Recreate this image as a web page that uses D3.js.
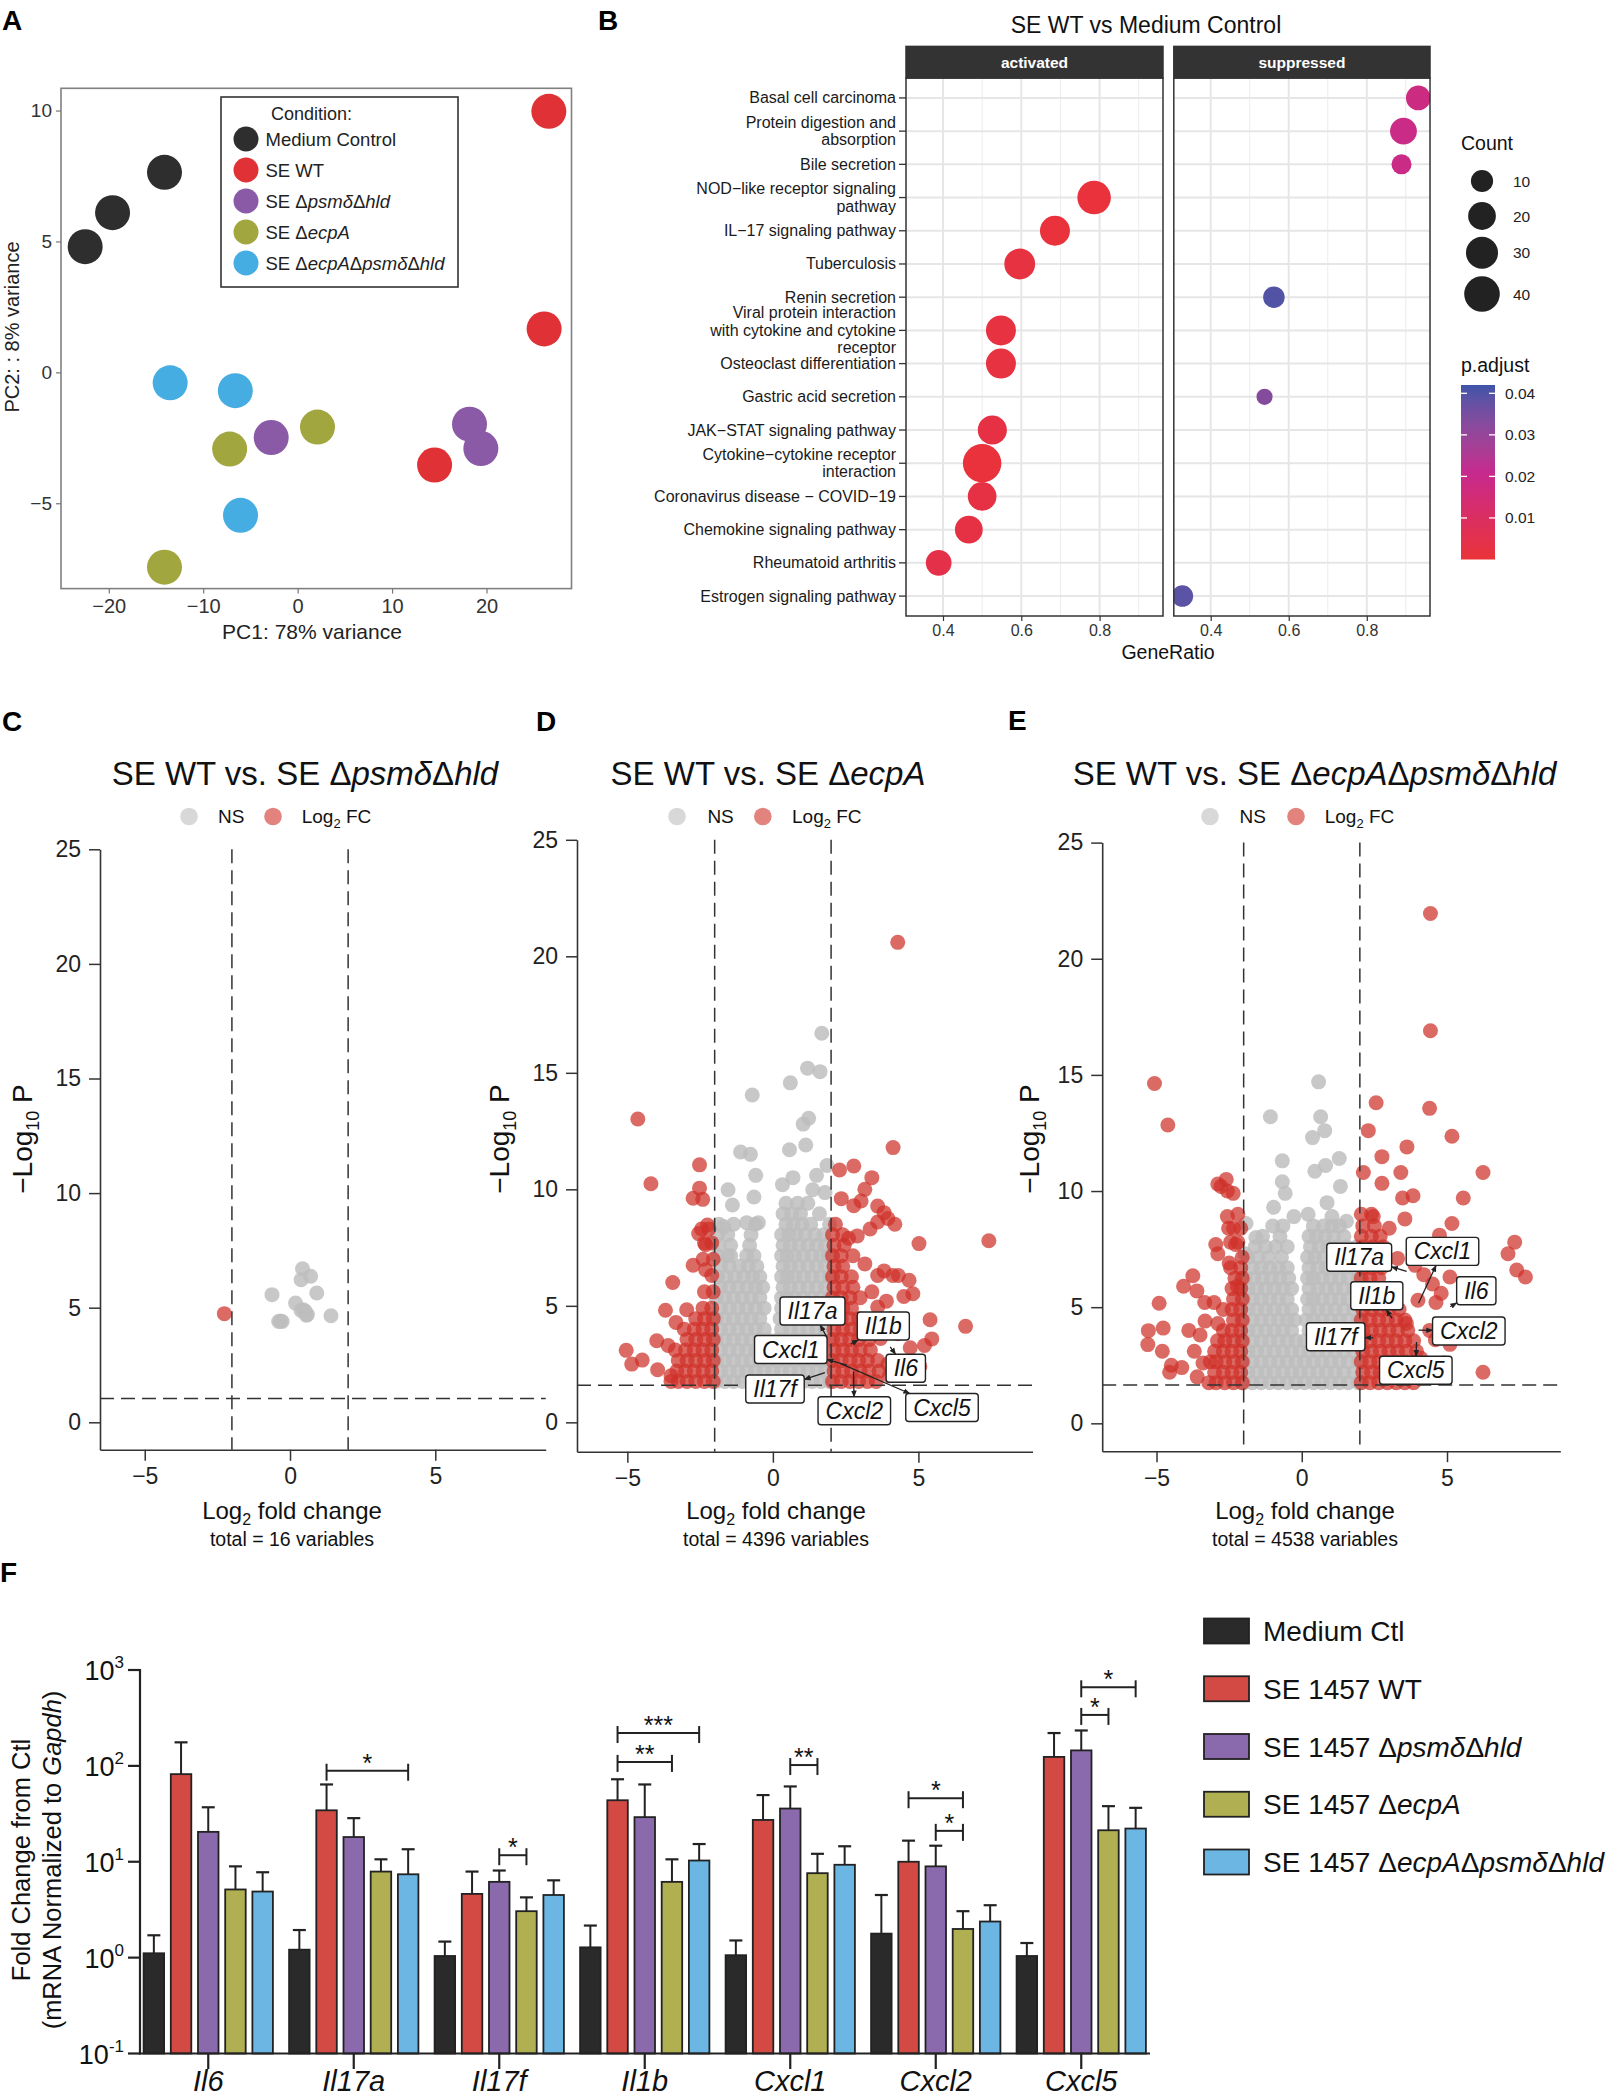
<!DOCTYPE html>
<html><head><meta charset="utf-8"><title>Figure</title>
<script src="https://cdn.jsdelivr.net/npm/d3@7/dist/d3.min.js"></script>
<style>html,body{margin:0;padding:0;background:#fff}svg{display:block}</style>
</head><body>
<script>
// ======================= DATA =======================
// ---- Panel A : PCA ----
const pcaConditions = ["Medium Control","SE WT","SE ΔpsmδΔhld","SE ΔecpA","SE ΔecpAΔpsmδΔhld"];
const pcaPC1 = [-14.1,-19.6,-22.5, 26.6,26.1,14.5, -2.8,18.2,19.4, -7.2,2.1,-14.1, -13.5,-6.6,-6.05];
const pcaPC2 = [7.64,6.1,4.8, 9.97,1.66,-3.54, -2.49,-1.98,-2.91, -2.93,-2.09,-7.44, -0.40,-0.70,-5.46];
const pcaGroup = [0,0,0, 1,1,1, 2,2,2, 3,3,3, 4,4,4];
const pcaXTicks = [-20,-10,0,10,20];
const pcaYTicks = [-5,0,5,10];

// ---- Panel B : KEGG dot plot ----
const keggTerms = ["Basal cell carcinoma","Protein digestion and\nabsorption","Bile secretion",
  "NOD−like receptor signaling\npathway","IL−17 signaling pathway","Tuberculosis","Renin secretion",
  "Viral protein interaction\nwith cytokine and cytokine\nreceptor","Osteoclast differentiation",
  "Gastric acid secretion","JAK−STAT signaling pathway","Cytokine−cytokine receptor\ninteraction",
  "Coronavirus disease − COVID−19","Chemokine signaling pathway","Rheumatoid arthritis","Estrogen signaling pathway"];
const keggActIdx   = [3,4,5,7,8,10,11,12,13,14];
const keggActRatio = [0.786,0.686,0.596,0.548,0.548,0.526,0.500,0.500,0.466,0.389];
const keggActCount = [34,25,27,25,25,23,49,22,20,16];
const keggActPadj  = [0.001,0.001,0.002,0.002,0.002,0.003,0.001,0.003,0.003,0.004];
const keggSupIdx   = [0,1,2,6,9,15];
const keggSupRatio = [0.932,0.894,0.889,0.562,0.538,0.3275];
const keggSupCount = [14,18,7,9,3,9];
const keggSupPadj  = [0.018,0.019,0.019,0.040,0.033,0.039];
const keggRatioTicks = [0.4,0.6,0.8];
const keggMinorTicks = [0.5,0.7,0.9];
const countLegend = [10,20,30,40];
const padjLegend = [0.01,0.02,0.03,0.04];

// ---- Panels C–E : volcano plots ([log2FC, -log10 P]) ----
const volcYTicks = [0,5,10,15,20,25];
const volcXTicks = [-5,0,5];
const cNS = [[0.43,6.70],[0.38,6.22],[0.71,6.37],[-0.62,5.57],[0.92,5.64],[0.19,5.2],[0.46,4.91],[0.38,4.88],
  [0.56,4.67],[1.41,4.65],[-0.39,4.40],[-0.27,4.40],[0.52,4.85],[-0.33,4.42],[0.60,4.70]];
const cFC = [[-2.26,4.74]];
const cPCut = 1.04;

const dNSOut = [[1.68,16.7],[1.19,15.2],[1.62,15.05],[0.6,14.57],[-0.71,14.05],[1.23,13.05],[1.04,12.8],
  [-1.11,11.6],[-0.77,11.5],[1.13,11.9],[0.57,11.7],[-0.59,10.6],[1.86,11.02],[1.5,10.6],[-1.54,9.98],
  [-1.39,9.33],[-0.65,9.67],[0.33,10.2],[0.69,10.5],[1.37,9.98],[1.79,9.86],[-0.9,8.57],[-0.5,8.57],[-1.69,8.4]];
const dNSRows = [
  [1.75,[-1.95,-1.65,-1.35,-1.05,-0.75,-0.45,-0.15,0.15,0.45,0.75,1.05,1.35,1.65,1.95]],
  [2.2,[-1.8,-1.5,-1.2,-0.9,-0.6,-0.3,0,0.3,0.6,0.9,1.2,1.5,1.8]],
  [2.65,[-1.95,-1.65,-1.35,-1.05,-0.75,-0.45,-0.15,0.15,0.45,0.75,1.05,1.35,1.65,1.95]],
  [3.1,[-1.8,-1.5,-1.2,-0.9,-0.6,-0.3,0.02,0.3,0.6,0.9,1.2,1.5,1.8]],
  [3.55,[-1.95,-1.65,-1.35,-1.05,-0.75,-0.45,-0.18,0.18,0.45,0.75,1.05,1.35,1.65,1.95]],
  [4.0,[-1.8,-1.5,-1.2,-0.9,-0.6,-0.3,0.3,0.6,0.9,1.2,1.5,1.8]],
  [4.45,[-1.95,-1.65,-1.35,-1.05,-0.75,-0.45,0.25,0.45,0.75,1.05,1.35,1.65,1.95]],
  [4.9,[-1.8,-1.5,-1.2,-0.9,-0.6,-0.3,0.3,0.6,0.9,1.2,1.5,1.8]],
  [5.35,[-1.95,-1.65,-1.35,-1.05,-0.75,-0.45,0.3,0.5,0.75,1.05,1.35,1.65,1.95]],
  [5.8,[-1.8,-1.5,-1.2,-0.9,-0.6,-0.35,0.35,0.6,0.9,1.2,1.5,1.8]],
  [6.25,[-1.9,-1.6,-1.3,-1.0,-0.7,-0.45,0.3,0.5,0.75,1.05,1.35,1.65,1.95]],
  [6.7,[-1.8,-1.5,-1.15,-0.85,-0.55,0.35,0.6,0.9,1.2,1.5,1.8]],
  [7.15,[-1.9,-1.55,-1.45,-0.9,-0.65,0.3,0.5,0.75,1.05,1.35,1.65,1.9]],
  [7.6,[-1.85,-1.45,-0.8,0.35,0.6,0.9,1.2,1.5,1.8]],
  [8.05,[-1.9,-1.55,-0.75,0.3,0.55,0.8,1.1,1.45,1.75]],
  [8.5,[-1.85,-1.35,-0.6,0.45,0.7,1.0,1.3,1.95]],
  [8.95,[0.35,0.65,0.95,1.6]],
  [9.4,[0.45,0.85,1.2]]];
const dFCOut = [[-4.64,13.02],[-4.19,10.24],[-2.52,11.05],[-2.52,10.05],[-2.74,9.62],[-2.41,9.57],[-2.55,8.1],
  [-2.25,8.47],[-2.31,7.62],[-2.74,6.74],[-3.44,6.0],[-2.31,6.55],[-3.69,4.81],[-2.96,4.83],[-3.33,4.29],
  [-3.99,3.5],[-5.04,3.09],[-4.85,2.5],[-4.49,2.67],[-3.96,2.26],[-3.6,3.3],[-3.5,2.0],
  [4.29,20.6],[4.13,11.79],[7.42,7.79],[5.02,7.67],[6.62,4.12],[5.4,4.4],[5.46,3.58],[5.21,3.3],[4.81,5.52],
  [2.29,10.83],[2.78,11.0],[3.4,10.5],[3.16,10.0],[2.35,9.6],[2.78,9.3],[3.03,9.5],[3.6,9.28],[3.82,9.0],
  [4.19,8.5],[3.6,8.6],[3.34,8.3],[3.95,8.75],[2.9,8.0],[2.6,7.9],[3.82,6.5],[4.31,6.3],[4.68,6.1],[3.6,6.3],
  [3.16,6.8],[4.12,6.3],[3.4,5.6],[4.03,4.45],[4.5,5.4],[3.6,4.95],[4.3,3.8],[4.72,3.2],[5.05,2.4],[3.95,2.5],
  [3.7,3.6],[4.0,2.0],[3.4,4.2],[3.9,5.2]];
const dFCRows = [
  [1.75,[2.05,2.35,2.65,2.95,3.25,3.55,-2.05,-2.35,-2.65,-2.95,-3.25,-3.5]],
  [2.2,[2.1,2.4,2.7,3.0,3.3,3.65,-2.1,-2.4,-2.7,-3.0,-3.3]],
  [2.65,[2.05,2.35,2.65,2.95,3.25,3.6,-2.05,-2.35,-2.65,-2.95,-3.25]],
  [3.1,[2.1,2.4,2.7,3.0,3.35,-2.1,-2.4,-2.7,-3.0,-3.35]],
  [3.55,[2.05,2.35,2.65,2.95,3.3,-2.05,-2.35,-2.65,-2.95]],
  [4.0,[2.1,2.4,2.7,3.0,-2.1,-2.4,-2.7,-3.05]],
  [4.45,[2.05,2.35,2.65,2.95,-2.05,-2.35,-2.65]],
  [4.9,[2.1,2.4,2.7,-2.1,-2.4]],
  [5.35,[2.05,2.35,2.65,3.0]],
  [5.6,[-2.05,-2.35]],
  [5.8,[2.1,2.4,2.75]],
  [6.25,[2.05,2.35,2.7]],
  [6.3,[-2.1]],
  [6.7,[2.1,2.4]],
  [7.0,[-2.05,-2.4]],
  [7.15,[2.05,2.35,2.75]],
  [7.6,[2.1,2.45]],
  [7.7,[-2.1,-2.35]],
  [8.05,[2.05,2.4]],
  [8.3,[-2.2,-2.45]],
  [8.5,[2.15]]];
const dPCut = 1.59;
const dGenes = ["Il17a","Il1b","Cxcl1","Il6","Il17f","Cxcl2","Cxcl5"];
const dGeneFC = [1.85,2.68,2.54,4.03,1.79,2.77,2.31];
const dGeneP  = [3.67,3.36,2.46,3.24,2.13,2.17,2.53];

const eNSOut = [[0.58,14.7],[-1.08,13.2],[0.65,13.2],[0.79,12.6],[0.37,12.3],[-0.67,11.3],[0.82,11.1],[1.29,11.4],
  [0.45,10.85],[-0.67,10.4],[-0.57,9.9],[1.33,10.2],[0.87,9.5],[-0.97,9.3],[-0.27,8.9],[1.04,8.9],[0.22,9.0],
  [1.54,8.7],[-1.92,8.6],[-1.58,8.0],[-1.95,7.3]];
const eNSRows = [
  [1.75,[-2.0,-1.7,-1.4,-1.1,-0.8,-0.5,-0.2,0.1,0.4,0.7,1.0,1.3,1.6,1.95]],
  [2.2,[-1.85,-1.55,-1.25,-0.95,-0.65,-0.35,-0.05,0.25,0.55,0.85,1.15,1.45,1.8]],
  [2.65,[-2.0,-1.7,-1.4,-1.1,-0.8,-0.5,-0.2,0.1,0.4,0.7,1.0,1.3,1.6,1.95]],
  [3.1,[-1.85,-1.55,-1.25,-0.95,-0.65,-0.35,-0.05,0.25,0.55,0.85,1.15,1.45,1.8]],
  [3.55,[-2.0,-1.7,-1.4,-1.1,-0.8,-0.5,-0.2,0.1,0.4,0.7,1.0,1.3,1.6,1.95]],
  [4.0,[-1.85,-1.55,-1.25,-0.95,-0.65,-0.35,0.25,0.55,0.85,1.15,1.45,1.8]],
  [4.45,[-2.0,-1.7,-1.4,-1.1,-0.8,-0.5,-0.25,0.15,0.4,0.7,1.0,1.3,1.6,1.95]],
  [4.9,[-1.85,-1.55,-1.25,-0.95,-0.65,-0.35,0.25,0.55,0.85,1.15,1.45,1.8]],
  [5.35,[-2.0,-1.7,-1.4,-1.1,-0.8,-0.5,0.2,0.4,0.7,1.0,1.3,1.6,1.95]],
  [5.8,[-1.85,-1.55,-1.25,-0.95,-0.65,-0.35,0.25,0.55,0.85,1.15,1.45,1.8]],
  [6.25,[-1.95,-1.65,-1.35,-1.05,-0.75,-0.45,0.2,0.4,0.7,1.0,1.3,1.6,1.95]],
  [6.7,[-1.7,-1.4,-1.1,-0.8,-0.5,0.25,0.55,0.85,1.15,1.45,1.8]],
  [7.15,[-1.85,-1.5,-1.15,-0.7,0.2,0.45,0.75,1.05,1.35,1.7]],
  [7.6,[-1.6,-1.25,-0.9,-0.5,0.3,0.6,0.9,1.2,1.55,1.9]],
  [8.05,[-1.35,-0.75,0.25,0.5,0.8,1.1,1.45]],
  [8.5,[-1.0,-0.65,0.4,0.75,1.05,1.3]]];
const eFCOut = [[4.43,21.95],[4.43,16.9],[4.40,13.56],[2.56,13.8],[2.29,12.6],[5.17,12.36],[3.62,11.9],[2.76,11.48],
  [3.41,10.8],[6.24,10.8],[2.12,10.8],[2.76,10.33],[3.47,9.7],[3.83,9.8],[5.56,9.7],[5.17,8.6],[2.46,8.9],[3.01,8.4],
  [3.55,8.8],[4.74,8.1],[7.33,7.8],[7.1,7.3],[7.4,6.6],[7.70,6.3],[6.24,2.2],[5.1,6.3],[4.62,5.2],[4.0,5.3],[5.1,3.4],
  [3.3,7.1],[3.9,6.8],[4.2,6.4],[4.5,6.0],[4.8,5.6],[3.6,4.3],[4.4,4.0],[4.6,3.6],[4.1,2.8],[3.8,2.2],[4.9,2.6],
  [-5.07,14.63],[-4.61,12.84],[-5.28,3.99],[-5.3,3.39],[-4.91,5.17],[-4.77,4.1],[-4.8,3.1],[-4.07,5.9],[-3.75,6.35],
  [-3.61,5.7],[-3.89,4.0],[-3.5,3.8],[-3.34,5.2],[-2.96,7.7],[-2.89,7.3],[-3.02,5.2],[-3.33,4.4],[-2.89,4.3],
  [-4.49,2.5],[-4.13,2.4],[-4.55,2.2],[-2.89,10.3],[-2.6,10.5],[-2.56,10.0],[-2.36,9.9],[-2.78,10.2],[-2.56,8.9],
  [-2.52,8.4],[-2.28,7.7],[-2.5,6.9],[-2.22,5.9],[-3.7,3.1],[-3.4,2.6],[-3.6,2.0]];
const eFCRows = [
  [1.75,[2.05,2.35,2.65,2.95,3.25,3.55,3.85,-2.05,-2.35,-2.65,-2.95,-3.2]],
  [2.2,[2.1,2.4,2.7,3.0,3.3,3.6,3.9,-2.1,-2.4,-2.7,-3.0]],
  [2.65,[2.05,2.35,2.65,2.95,3.25,3.55,3.85,-2.05,-2.35,-2.65,-2.95,-3.15]],
  [3.1,[2.1,2.4,2.7,3.0,3.3,3.6,3.95,-2.1,-2.4,-2.7,-3.0]],
  [3.55,[2.05,2.35,2.65,2.95,3.25,3.55,3.85,-2.05,-2.35,-2.65,-2.9]],
  [4.0,[2.1,2.4,2.7,3.0,3.3,3.65,-2.1,-2.4,-2.7]],
  [4.45,[2.05,2.35,2.65,2.95,3.25,3.55,-2.05,-2.35]],
  [4.9,[2.1,2.4,2.7,3.0,3.35,-2.1,-2.4,-2.7]],
  [5.35,[2.05,2.35,2.65,2.95,-2.05,-2.35]],
  [5.8,[2.1,2.4,2.7,3.1,-2.1,-2.4]],
  [6.25,[2.05,2.35,2.65,-2.05,-2.3]],
  [6.7,[2.1,2.4,2.75,-2.1,-2.45]],
  [7.15,[2.05,2.35,2.65,-2.05]],
  [7.6,[2.1,2.45,2.8]],
  [7.8,[-2.2,-2.45]],
  [8.05,[2.05,2.4,2.7]],
  [8.4,[-2.1,-2.35]],
  [8.5,[2.1,2.5]],
  [9.0,[2.05,2.4,-2.2]]];
const ePCut = 1.65;
const eGenes = ["Il17a","Cxcl1","Il1b","Il6","Il17f","Cxcl2","Cxcl5"];
const eGeneFC = [3.61,4.02,3.11,5.11,2.46,4.02,3.95];
const eGeneP  = [6.54,5.17,4.52,5.02,3.68,4.01,3.50];

// ---- Panel F : qPCR bars (fold change) ----
const fGenes  = ["Il6","Il17a","Il17f","Il1b","Cxcl1","Cxcl2","Cxcl5"];
const fSeries = ["Medium Ctl","SE 1457 WT","SE 1457 ΔpsmδΔhld","SE 1457 ΔecpA","SE 1457 ΔecpAΔpsmδΔhld"];
const fMedium = [1.11,1.21,1.04,1.28,1.06,1.78,1.04];
const fWT     = [82,34.4,4.62,43.8,27.3,10.0,124];
const fPsm    = [20.5,18.1,6.17,29.2,35.9,8.95,145];
const fEcp    = [5.14,7.9,3.05,6.17,7.6,1.99,21.3];
const fDbl    = [4.89,7.4,4.5,10.3,9.3,2.38,22.2];
const fMediumErr = [1.71,1.94,1.47,2.16,1.51,4.5,1.42];
const fWTErr     = [176,64,7.9,72.5,49.6,16.6,220];
const fPsmErr    = [37,28.5,8.1,64,61,14.7,234];
const fEcpErr    = [8.95,10.6,4.25,10.6,12.1,3.05,38];
const fDblErr    = [7.77,13.5,6.4,15.3,14.5,3.52,36.5];
const fYTicks = [0.1,1,10,100,1000];
const sigGene  = ["Il17a","Il17f","Il1b","Il1b","Cxcl1","Cxcl2","Cxcl2","Cxcl5","Cxcl5"];
const sigFrom  = [1,2,1,1,2,1,2,2,2];
const sigTo    = [4,3,4,3,3,3,3,4,3];
const sigValue = [89,11.7,220,110,102,46,21,660,340];
const sigLabel = ["*","*","***","**","**","*","*","*","*"];

// ======================= STYLE =======================
const FONT = '"Liberation Sans", Arial, Helvetica, sans-serif';
const pcaColors = ["#2e2e2e","#e03236","#8a5aa6","#a2a63f","#45ade1"];
const fColors = ["#2a2a2a","#d24a43","#8b69ad","#b0b052","#6cb6e4"];
const nsColor = "#bebebe", fcColor = "#cf3028";
const nsAlpha = 0.84, fcAlpha = 0.72;

const svg = d3.select("body").append("svg").attr("width",1621).attr("height",2100)
  .style("font-family",FONT);
svg.append("rect").attr("width",1621).attr("height",2100).attr("fill","#fff");
const defs = svg.append("defs");
defs.append("marker").attr("id","arr").attr("viewBox","0 0 10 10").attr("refX",9).attr("refY",5)
  .attr("markerWidth",7).attr("markerHeight",7).attr("markerUnits","userSpaceOnUse").attr("orient","auto")
  .append("path").attr("d","M0,1 L10,5 L0,9 z").attr("fill","#222");

function mixed(sel, str, allItalic){
  const parts = str.split("Δ");
  sel.append("tspan").text(parts[0]).attr("font-style", allItalic ? "italic" : null);
  for(let i=1;i<parts.length;i++){
    sel.append("tspan").text("Δ").attr("font-style", allItalic ? "italic" : null);
    sel.append("tspan").text(parts[i]).attr("font-style","italic");
  }
}
function styleAxis(a, size, color, lineColor, lw){
  a.select(".domain").remove();
  a.selectAll(".tick line").attr("stroke",lineColor||color).attr("stroke-width",lw||1.2);
  a.selectAll(".tick text").attr("font-size",size).attr("fill",color).attr("font-family",FONT);
}

[["A",2,30],["B",598,30],["C",2,731],["D",536,731],["E",1008,730],["F",0,1582]].forEach(p=>{
  svg.append("text").attr("x",p[1]).attr("y",p[2]).text(p[0]).attr("font-size",28)
    .attr("font-weight","bold").attr("fill","#000");
});

// ======================= PANEL A =======================
(function(){
  const x = d3.scaleLinear().domain([-25.06,29.0]).range([61,571.5]);
  const y = d3.scaleLinear().domain([-8.26,10.85]).range([588.6,88.3]);
  const g = svg.append("g");
  g.append("rect").attr("x",61).attr("y",88.3).attr("width",510.5).attr("height",500.3)
    .attr("fill","#fff").attr("stroke","#808080").attr("stroke-width",1.6);
  const ax = g.append("g").attr("transform","translate(0,588.6)")
    .call(d3.axisBottom(x).tickValues(pcaXTicks).tickSize(5).tickPadding(5));
  styleAxis(ax,20,"#333","#777");
  const ay = g.append("g").attr("transform","translate(61,0)")
    .call(d3.axisLeft(y).tickValues(pcaYTicks).tickSize(5).tickPadding(4));
  styleAxis(ay,19,"#333","#777");
  g.append("text").attr("x",312).attr("y",639).attr("text-anchor","middle").attr("font-size",21)
    .attr("fill","#222").text("PC1: 78% variance");
  g.append("text").attr("transform","translate(19,327) rotate(-90)").attr("text-anchor","middle")
    .attr("font-size",20).attr("fill","#222").text("PC2: : 8% variance");
  g.selectAll("circle.pt").data(d3.range(pcaPC1.length)).join("circle").attr("class","pt")
    .attr("cx",i=>x(pcaPC1[i])).attr("cy",i=>y(pcaPC2[i])).attr("r",17.5)
    .attr("fill",i=>pcaColors[pcaGroup[i]]);
  const lg = g.append("g");
  lg.append("rect").attr("x",221).attr("y",97).attr("width",237).attr("height",190)
    .attr("fill","#fff").attr("stroke","#333").attr("stroke-width",1.6);
  lg.append("text").attr("x",271).attr("y",120).attr("font-size",18).attr("fill","#222").text("Condition:");
  pcaConditions.forEach((c,i)=>{
    const cy = 139 + i*31;
    lg.append("circle").attr("cx",246).attr("cy",cy).attr("r",12.5).attr("fill",pcaColors[i]);
    const t = lg.append("text").attr("x",265.5).attr("y",cy+6.5).attr("font-size",18.5).attr("fill","#222");
    mixed(t,c,false);
  });
})();

// ======================= PANEL B =======================
(function(){
  const g = svg.append("g");
  const y = d3.scalePoint().domain(d3.range(keggTerms.length)).range([78,616]).padding(0.6);
  const panels = [
    {name:"activated", x0:906, x1:1163, idx:keggActIdx, ratio:keggActRatio, count:keggActCount, padj:keggActPadj},
    {name:"suppressed", x0:1173.8, x1:1430, idx:keggSupIdx, ratio:keggSupRatio, count:keggSupCount, padj:keggSupPadj}];
  const size = d3.scaleSqrt().domain([10,40]).range([11.1,17.8]);
  const col = d3.scaleLinear().domain([0,0.021,0.042]).range(["#ea3338","#c62a8e","#3f55a9"])
    .interpolate(d3.interpolateLab).clamp(true);
  g.append("text").attr("x",1146).attr("y",33).attr("text-anchor","middle").attr("font-size",23)
    .attr("fill","#111").text("SE WT vs Medium Control");
  panels.forEach((p,k)=>{
    const x = d3.scaleLinear().domain([0.3055,0.962]).range([p.x0,p.x1]);
    const pg = g.append("g");
    pg.append("rect").attr("x",p.x0).attr("y",78).attr("width",p.x1-p.x0).attr("height",538).attr("fill","#fff");
    keggMinorTicks.forEach(v=>pg.append("line").attr("x1",x(v)).attr("x2",x(v)).attr("y1",78).attr("y2",616)
      .attr("stroke","#ececec").attr("stroke-width",1));
    keggRatioTicks.forEach(v=>pg.append("line").attr("x1",x(v)).attr("x2",x(v)).attr("y1",78).attr("y2",616)
      .attr("stroke","#e6e6e6").attr("stroke-width",2));
    keggTerms.forEach((t,i)=>pg.append("line").attr("x1",p.x0).attr("x2",p.x1).attr("y1",y(i)).attr("y2",y(i))
      .attr("stroke","#e6e6e6").attr("stroke-width",2));
    const cid = "clipB"+k;
    defs.append("clipPath").attr("id",cid).append("rect").attr("x",p.x0).attr("y",78)
      .attr("width",p.x1-p.x0).attr("height",538);
    pg.append("g").attr("clip-path",`url(#${cid})`).selectAll("circle").data(d3.range(p.idx.length)).join("circle")
      .attr("cx",i=>x(p.ratio[i])).attr("cy",i=>y(p.idx[i])).attr("r",i=>size(p.count[i]))
      .attr("fill",i=>col(p.padj[i]));
    pg.append("rect").attr("x",p.x0).attr("y",78).attr("width",p.x1-p.x0).attr("height",538)
      .attr("fill","none").attr("stroke","#333").attr("stroke-width",1.5);
    pg.append("rect").attr("x",p.x0).attr("y",46.4).attr("width",p.x1-p.x0).attr("height",31.6)
      .attr("fill","#333").attr("stroke","#333").attr("stroke-width",1.5);
    pg.append("text").attr("x",(p.x0+p.x1)/2).attr("y",67.5).attr("text-anchor","middle").attr("font-size",15.5)
      .attr("font-weight","bold").attr("fill","#fff").text(p.name);
    const ax = pg.append("g").attr("transform","translate(0,616)")
      .call(d3.axisBottom(x).tickValues(keggRatioTicks).tickSize(5).tickPadding(4).tickFormat(d3.format(".1f")));
    styleAxis(ax,16,"#333","#333");
  });
  keggTerms.forEach((t,i)=>{
    g.append("line").attr("x1",899).attr("x2",906).attr("y1",y(i)).attr("y2",y(i)).attr("stroke","#333").attr("stroke-width",1.3);
    const lines = t.split("\n");
    const txt = g.append("text").attr("text-anchor","end").attr("font-size",16).attr("fill","#1a1a1a");
    lines.forEach((l,j)=>txt.append("tspan").attr("x",896)
      .attr("y",y(i)+5.5+(j-(lines.length-1)/2)*17.5).text(l));
  });
  g.append("text").attr("x",1168).attr("y",659).attr("text-anchor","middle").attr("font-size",19.5)
    .attr("fill","#111").text("GeneRatio");
  g.append("text").attr("x",1461).attr("y",150).attr("font-size",19.5).attr("fill","#111").text("Count");
  const cy = [181,216,252.8,294];
  countLegend.forEach((c,i)=>{
    g.append("circle").attr("cx",1482).attr("cy",cy[i]).attr("r",size(c)).attr("fill","#222");
    g.append("text").attr("x",1513).attr("y",cy[i]+5.5).attr("font-size",15.5).attr("fill","#222").text(c);
  });
  g.append("text").attr("x",1461).attr("y",372).attr("font-size",19.5).attr("fill","#111").text("p.adjust");
  const cb = d3.scaleLinear().domain([0,0.042]).range([559.5,385]);
  const grad = defs.append("linearGradient").attr("id","padjGrad").attr("x1",0).attr("x2",0).attr("y1",1).attr("y2",0);
  d3.range(0,1.0001,0.1).forEach(t=>grad.append("stop").attr("offset",t).attr("stop-color",col(t*0.042)));
  g.append("rect").attr("x",1461).attr("y",385).attr("width",34).attr("height",174.5).attr("fill","url(#padjGrad)");
  padjLegend.forEach(v=>{
    g.append("line").attr("x1",1461).attr("x2",1467).attr("y1",cb(v)).attr("y2",cb(v)).attr("stroke","#fff").attr("stroke-width",1.3);
    g.append("line").attr("x1",1489).attr("x2",1495).attr("y1",cb(v)).attr("y2",cb(v)).attr("stroke","#fff").attr("stroke-width",1.3);
    g.append("text").attr("x",1505).attr("y",cb(v)+5.5).attr("font-size",15.5).attr("fill","#222").text(v.toFixed(2));
  });
})();

// ======================= PANELS C–E =======================
function rowsToPoints(rows){ const out=[]; rows.forEach(r=>r[1].forEach(xv=>out.push([xv,r[0]]))); return out; }
function volcano(cfg){
  const x = d3.scaleLinear().domain(cfg.xDomain).range(cfg.xRange);
  const y = d3.scaleLinear().domain(cfg.yDomain).range(cfg.yRange);
  const g = svg.append("g");
  const tt = g.append("text").attr("x",cfg.titleX).attr("y",785).attr("text-anchor","middle")
    .attr("font-size",33).attr("fill","#111");
  mixed(tt,cfg.title,false);
  const L = cfg.legend;
  g.append("circle").attr("cx",L[0]).attr("cy",816.5).attr("r",8.8).attr("fill",nsColor).attr("fill-opacity",0.6);
  g.append("text").attr("x",L[1]).attr("y",823).attr("font-size",19).attr("fill","#111").text("NS");
  g.append("circle").attr("cx",L[2]).attr("cy",816.5).attr("r",8.8).attr("fill",fcColor).attr("fill-opacity",0.6);
  const lt = g.append("text").attr("x",L[3]).attr("y",823).attr("font-size",19).attr("fill","#111");
  lt.append("tspan").text("Log");
  lt.append("tspan").text("2").attr("font-size",13).attr("dy",5);
  lt.append("tspan").text(" FC").attr("dy",-5);
  g.append("g").selectAll("circle").data(cfg.ns).join("circle")
    .attr("cx",d=>x(d[0])).attr("cy",d=>y(d[1])).attr("r",7.5).attr("fill",nsColor).attr("fill-opacity",nsAlpha);
  g.append("g").selectAll("circle").data(cfg.fc).join("circle")
    .attr("cx",d=>x(d[0])).attr("cy",d=>y(d[1])).attr("r",7.5).attr("fill",fcColor).attr("fill-opacity",fcAlpha);
  [-2,2].forEach(v=>g.append("line").attr("x1",x(v)).attr("x2",x(v)).attr("y1",cfg.yRange[1]).attr("y2",cfg.yRange[0])
    .attr("stroke","#333").attr("stroke-width",1.5).attr("stroke-dasharray","14,7"));
  g.append("line").attr("x1",cfg.xRange[0]).attr("x2",cfg.xRange[1]).attr("y1",y(cfg.pCut)).attr("y2",y(cfg.pCut))
    .attr("stroke","#333").attr("stroke-width",1.5).attr("stroke-dasharray","14,7");
  const ya = g.append("g").attr("transform",`translate(${cfg.xRange[0]},0)`)
    .call(d3.axisLeft(y).tickValues(volcYTicks).tickSize(11).tickSizeOuter(0).tickPadding(8));
  ya.select(".domain").attr("stroke","#333").attr("stroke-width",1.6);
  ya.selectAll(".tick line").attr("stroke","#333").attr("stroke-width",1.5);
  ya.selectAll(".tick text").attr("font-size",23).attr("fill","#222");
  const xa = g.append("g").attr("transform",`translate(0,${cfg.yRange[0]})`)
    .call(d3.axisBottom(x).tickValues(volcXTicks).tickSize(11).tickSizeOuter(0).tickPadding(7));
  xa.select(".domain").attr("stroke","#333").attr("stroke-width",1.6);
  xa.selectAll(".tick line").attr("stroke","#333").attr("stroke-width",1.5);
  xa.selectAll(".tick text").attr("font-size",23).attr("fill","#222");
  const xt = g.append("text").attr("x",cfg.axisTitleX).attr("y",1519).attr("text-anchor","middle")
    .attr("font-size",24).attr("fill","#111");
  xt.append("tspan").text("Log");
  xt.append("tspan").text("2").attr("font-size",16).attr("dy",6);
  xt.append("tspan").text(" fold change").attr("dy",-6);
  g.append("text").attr("x",cfg.axisTitleX).attr("y",1546).attr("text-anchor","middle").attr("font-size",19.5)
    .attr("fill","#111").text(cfg.total);
  const yt = g.append("text").attr("transform",`translate(${cfg.yTitleX},1139) rotate(-90)`)
    .attr("text-anchor","middle").attr("font-size",28).attr("fill","#111");
  yt.append("tspan").text("−Log");
  yt.append("tspan").text("10").attr("font-size",18).attr("dy",7);
  yt.append("tspan").text(" P").attr("dy",-7);
  if(cfg.genes){
    cfg.genes.forEach((gname,i)=>{
      const px = x(cfg.geneFC[i]), py = y(cfg.geneP[i]);
      const c = cfg.labelPos[gname];
      const t = g.append("text").attr("x",c[0]).attr("y",c[1]+8).attr("text-anchor","middle")
        .attr("font-size",23).attr("font-style","italic").attr("fill","#111").text(gname);
      const w = t.node().getComputedTextLength() + 15, h = 28;
      const bx = c[0]-w/2, by = c[1]-h/2;
      const dx = c[0]-px, dy = c[1]-py;
      const s = Math.min(Math.abs((w/2)/(dx||1e-6)), Math.abs((h/2)/(dy||1e-6)));
      const ex = c[0] - dx*s, ey = c[1] - dy*s;
      g.insert("line", () => t.node()).attr("x1",px).attr("y1",py).attr("x2",ex).attr("y2",ey)
        .attr("stroke","#222").attr("stroke-width",1.3).attr("marker-end","url(#arr)");
      g.insert("rect", () => t.node()).attr("x",bx).attr("y",by).attr("width",w).attr("height",h).attr("rx",3)
        .attr("fill","#fff").attr("stroke","#222").attr("stroke-width",1.4);
    });
  }
}
volcano({title:"SE WT vs. SE ΔpsmδΔhld", titleX:305, legend:[189,218,273,301.7],
  xDomain:[-6.54,8.8], xRange:[100,545.7], yDomain:[-1.2,25], yRange:[1449.8,849.3],
  ns:cNS, fc:cFC, pCut:cPCut, axisTitleX:292, yTitleX:32, total:"total = 16 variables"});
volcano({title:"SE WT vs. SE ΔecpA", titleX:768, legend:[677,707.4,762.8,792],
  xDomain:[-6.73,8.92], xRange:[577,1032.5], yDomain:[-1.26,25], yRange:[1451.7,839.8],
  ns:rowsToPoints(dNSRows).concat(dNSOut), fc:rowsToPoints(dFCRows).concat(dFCOut), pCut:dPCut,
  axisTitleX:776, yTitleX:509, total:"total = 4396 variables",
  genes:dGenes, geneFC:dGeneFC, geneP:dGeneP,
  labelPos:{Il17a:[812.5,1311],Il1b:[883.3,1326],Cxcl1:[790.8,1349.5],Il6:[905.8,1368.3],Il17f:[775,1389],Cxcl2:[854.3,1410.8],Cxcl5:[942,1407.5]}});
volcano({title:"SE WT vs. SE ΔecpAΔpsmδΔhld", titleX:1314.5, legend:[1210,1239.6,1296,1324.7],
  xDomain:[-6.87,8.9], xRange:[1102.2,1560.3], yDomain:[-1.2,25], yRange:[1451.2,842.6],
  ns:rowsToPoints(eNSRows).concat(eNSOut), fc:rowsToPoints(eFCRows).concat(eFCOut), pCut:ePCut,
  axisTitleX:1305, yTitleX:1039, total:"total = 4538 variables",
  genes:eGenes, geneFC:eGeneFC, geneP:eGeneP,
  labelPos:{Il17a:[1359.2,1257.2],Cxcl1:[1442.5,1251.4],Il1b:[1376.8,1295.7],Il6:[1476.3,1290.7],Il17f:[1335.7,1336.7],Cxcl2:[1468.8,1331],Cxcl5:[1415.8,1370.3]}});

// ======================= PANEL F =======================
(function(){
  const g = svg.append("g");
  const x = d3.scaleBand().domain(fGenes).range([135.5,1154]);
  const xs = d3.scaleBand().domain(d3.range(5)).range([-68,68]).paddingInner(0.246).paddingOuter(0.123);
  const y = d3.scaleLog().domain([0.1,1000]).range([2053.5,1670]);
  const means = [fMedium,fWT,fPsm,fEcp,fDbl];
  const errs = [fMediumErr,fWTErr,fPsmErr,fEcpErr,fDblErr];
  const cx = (gene,s)=> x(gene)+x.bandwidth()/2 + xs(s) + xs.bandwidth()/2;
  fGenes.forEach((gene,gi)=>{
    for(let s=0;s<5;s++){
      const c = cx(gene,s);
      g.append("line").attr("x1",c).attr("x2",c).attr("y1",y(means[s][gi])).attr("y2",y(errs[s][gi]))
        .attr("stroke","#222").attr("stroke-width",2);
      g.append("line").attr("x1",c-6.5).attr("x2",c+6.5).attr("y1",y(errs[s][gi])).attr("y2",y(errs[s][gi]))
        .attr("stroke","#222").attr("stroke-width",2.2);
      g.append("rect").attr("x",c-xs.bandwidth()/2).attr("y",y(means[s][gi])).attr("width",xs.bandwidth())
        .attr("height",y(0.1)-y(means[s][gi])).attr("fill",fColors[s]).attr("stroke","#222").attr("stroke-width",1.8);
    }
  });
  g.append("line").attr("x1",140).attr("x2",140).attr("y1",1669).attr("y2",2054.5).attr("stroke","#222").attr("stroke-width",2.2);
  g.append("line").attr("x1",139).attr("x2",1150).attr("y1",2053.5).attr("y2",2053.5).attr("stroke","#222").attr("stroke-width",2.2);
  fYTicks.forEach(v=>{
    g.append("line").attr("x1",128).attr("x2",140).attr("y1",y(v)).attr("y2",y(v)).attr("stroke","#222").attr("stroke-width",2.2);
    const t = g.append("text").attr("x",124).attr("y",y(v)+10).attr("text-anchor","end").attr("font-size",27).attr("fill","#111");
    t.append("tspan").text("10");
    t.append("tspan").text(String(Math.round(Math.log10(v)))).attr("font-size",17).attr("dy",-12);
  });
  fGenes.forEach(gene=>{
    const c = x(gene)+x.bandwidth()/2;
    g.append("line").attr("x1",c).attr("x2",c).attr("y1",2053.5).attr("y2",2069).attr("stroke","#222").attr("stroke-width",2.2);
    g.append("text").attr("x",c).attr("y",2091).attr("text-anchor","middle").attr("font-size",29)
      .attr("font-style","italic").attr("fill","#111").text(gene);
  });
  g.append("text").attr("transform","translate(30,1860) rotate(-90)").attr("text-anchor","middle")
    .attr("font-size",25.5).attr("fill","#111").text("Fold Change from Ctl");
  const yt2 = g.append("text").attr("transform","translate(61,1860) rotate(-90)").attr("text-anchor","middle")
    .attr("font-size",25.5).attr("fill","#111");
  yt2.append("tspan").text("(mRNA Normalized to ");
  yt2.append("tspan").text("Gapdh").attr("font-style","italic");
  yt2.append("tspan").text(")");
  sigGene.forEach((gene,i)=>{
    const a = cx(gene,sigFrom[i]), b = cx(gene,sigTo[i]), yy = y(sigValue[i]);
    g.append("line").attr("x1",a).attr("x2",b).attr("y1",yy).attr("y2",yy).attr("stroke","#222").attr("stroke-width",2);
    [a,b].forEach(e=>g.append("line").attr("x1",e).attr("x2",e).attr("y1",yy-7).attr("y2",yy+10).attr("stroke","#222").attr("stroke-width",2));
    g.append("text").attr("x",(a+b)/2).attr("y",yy+1).attr("text-anchor","middle").attr("font-size",25)
      .attr("fill","#111").text(sigLabel[i]);
  });
  fSeries.forEach((s,i)=>{
    const cy = 1631 + i*57.75;
    g.append("rect").attr("x",1204).attr("y",cy-12.5).attr("width",45).attr("height",25)
      .attr("fill",fColors[i]).attr("stroke","#222").attr("stroke-width",1.8);
    const t = g.append("text").attr("x",1263).attr("y",cy+10).attr("font-size",28).attr("fill","#111");
    mixed(t,s,false);
  });
})();
</script>
</body></html>
